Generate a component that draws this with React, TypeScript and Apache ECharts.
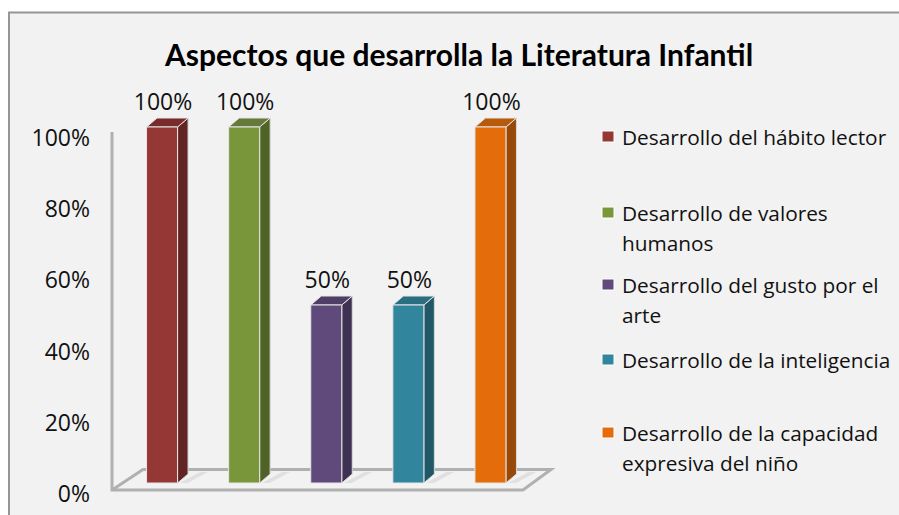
import React, { useEffect, useRef } from "react";
import * as echarts from "echarts";

const title = "Aspectos que desarrolla la Literatura Infantil";
const categories = [
  "Desarrollo del hábito lector",
  "Desarrollo de valores humanos",
  "Desarrollo del gusto por el arte",
  "Desarrollo de la inteligencia",
  "Desarrollo de la capacidad expresiva del niño",
];
const legendLines = [
  ["Desarrollo del hábito lector"],
  ["Desarrollo de valores", "humanos"],
  ["Desarrollo del gusto por el", "arte"],
  ["Desarrollo de la inteligencia"],
  ["Desarrollo de la capacidad", "expresiva del niño"],
];
const values = [1, 1, 0.5, 0.5, 1];
const frontColors = ["#953735", "#7A963A", "#604A7B", "#31859C", "#E46C0A"];
const sideColors = ["#632523", "#4F6228", "#3F3151", "#205867", "#984807"];
const topColors = ["#772C2A", "#64793A", "#4F3E66", "#2A6E81", "#B75A0A"];
const legendRowY = [137, 213, 285, 360, 433];

const FONT = "'Open Sans', Lato, sans-serif";
const TITLE_FONT = "Lato, 'Open Sans', sans-serif";
const AX_GREY = "#B0B0B0";

export default function App() {
  const ref = useRef<HTMLDivElement>(null);
  useEffect(() => {
    const chart = echarts.init(ref.current!, null, { renderer: "svg" });
    const gridLeft = 121;
    const gridW = 410.5;
    const gridTop = 137;
    const gridBottomY = 493;

    const legendGraphics: any[] = [];
    legendLines.forEach((lines, i) => {
      legendGraphics.push({
        type: "rect",
        silent: true,
        shape: { x: 602, y: legendRowY[i] - 6, width: 12, height: 11 },
        style: { fill: frontColors[i], stroke: "#FFFFFF", lineWidth: 1 },
      });
      lines.forEach((line, j) => {
        legendGraphics.push({
          type: "text",
          silent: true,
          x: 622,
          y: legendRowY[i] + j * 30,
          style: {
            text: line,
            font: `20.8px ${FONT}`,
            fill: "#111111",
            textVerticalAlign: "middle",
          },
        });
      });
    });

    chart.setOption({
      animation: false,
      backgroundColor: "#FFFFFF",
      title: {
        text: title,
        left: 454,
        top: 34,
        textAlign: "center",
        textStyle: { fontFamily: TITLE_FONT, fontWeight: "bold", fontSize: 30, color: "#000000" },
      },
      grid: { left: gridLeft, width: gridW, top: gridTop, height: gridBottomY - gridTop },
      xAxis: {
        type: "category",
        data: categories,
        axisLine: { show: false },
        axisTick: { show: false },
        axisLabel: { show: false },
      },
      yAxis: {
        type: "value",
        min: 0,
        max: 1,
        interval: 0.2,
        splitLine: { show: false },
        axisLine: { show: false },
        axisTick: { show: false },
        axisLabel: {
          margin: 31,
          fontFamily: FONT,
          fontSize: 23,
          color: "#111111",
          formatter: (v: number) => `${Math.round(v * 100)}%`,
        },
      },
      graphic: [
        {
          type: "rect",
          z: -10,
          silent: true,
          shape: { x: 9, y: 12.5, width: 900, height: 520 },
          style: { fill: "#F2F2F2", stroke: "#969696", lineWidth: 2 },
        },
        {
          type: "polyline",
          z: -5,
          silent: true,
          shape: { points: [[112, 132], [112, 490], [523, 490], [551, 469.5], [143, 469.5], [112, 490]] },
          style: { fill: "#F2F2F2", stroke: AX_GREY, lineWidth: 3 },
        },
        ...legendGraphics,
      ],
      series: [
        {
          type: "custom",
          data: values.map((v, i) => [i, v]),
          encode: { x: 0, y: 1 },
          clip: false,
          renderItem: (params: any, api: any) => {
            const i = api.value(0);
            const v = api.value(1);
            const top = api.coord([i, v]);
            const base = api.coord([i, 0]);
            const w = 31;
            const dx = 10.5;
            const dy = 9;
            const x0 = top[0] - w / 2;
            const x1 = x0 + w;
            const yT = top[1] - 10;
            const yB = base[1] - 10;
            return {
              type: "group",
              children: [
                {
                  type: "polygon",
                  shape: { points: [[x1 + 2, yB], [x1 + dx + 12, yB - 11], [x1 + dx + 20, yB - 11], [x1 + 10, yB]] },
                  style: { fill: "#E0E0E0" },
                },
                {
                  type: "polygon",
                  shape: { points: [[x1, yT], [x1 + dx, yT - dy], [x1 + dx, yB - dy], [x1, yB]] },
                  style: { fill: sideColors[i], stroke: "#D9D9D9", lineWidth: 1 },
                },
                {
                  type: "polygon",
                  shape: { points: [[x0, yT], [x0 + dx, yT - dy], [x1 + dx, yT - dy], [x1, yT]] },
                  style: { fill: topColors[i], stroke: "#E6E6E6", lineWidth: 1 },
                },
                {
                  type: "rect",
                  shape: { x: x0, y: yT, width: w, height: yB - yT },
                  style: { fill: frontColors[i], stroke: "#E6E6E6", lineWidth: 1 },
                },
                {
                  type: "text",
                  x: top[0] + 1,
                  y: yT - 26,
                  style: {
                    text: `${Math.round(v * 100)}%`,
                    font: `23px ${FONT}`,
                    fill: "#111111",
                    textAlign: "center",
                    textVerticalAlign: "middle",
                  },
                },
              ],
            };
          },
        },
      ],
    });
    return () => chart.dispose();
  }, []);
  return (
    <div
      ref={ref}
      style={{ position: "absolute", left: 0, top: 0, width: 899, height: 515 }}
    />
  );
}
